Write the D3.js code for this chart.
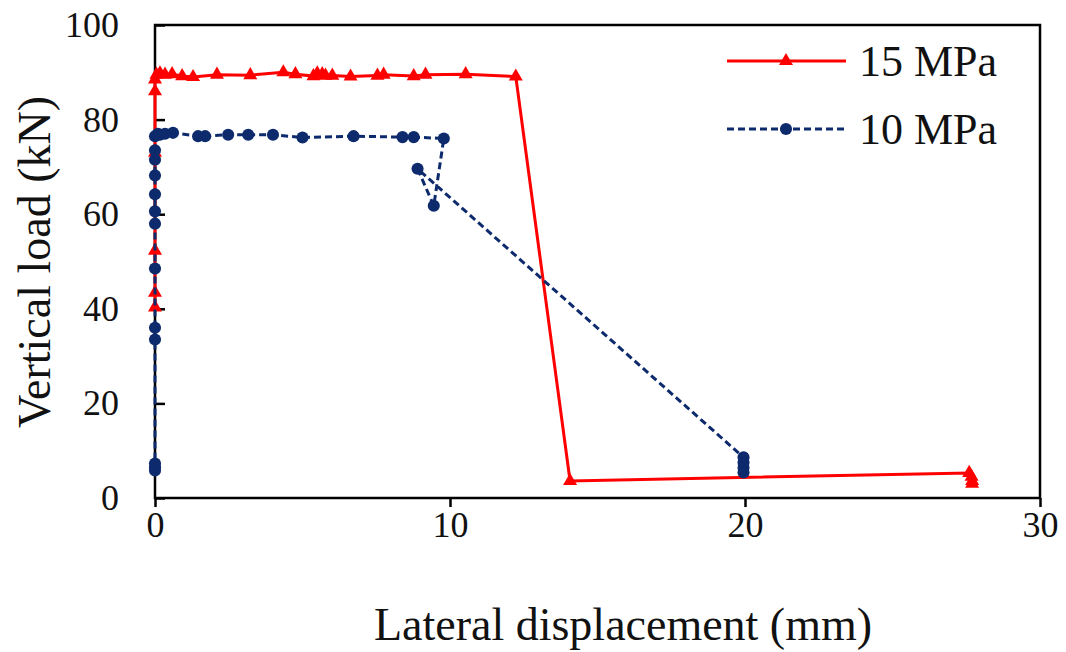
<!DOCTYPE html>
<html>
<head>
<meta charset="utf-8">
<script src="https://cdn.jsdelivr.net/npm/d3@7"></script>
<style>
  html, body { margin: 0; padding: 0; background: #ffffff; }
  svg { display: block; }
</style>
</head>
<body>
<svg id="chart" width="1066" height="652"></svg>
<script>
// Load–displacement curves for two concrete strengths
const seriesNames = ["15 MPa", "10 MPa"];

// 15 MPa specimen: lateral displacement (mm) and vertical load (kN)
const disp15 = [0, 0, 0, 0, 0, 0, 0.05, 0.17, 0.34, 0.58, 0.92, 1.29, 2.1, 3.23, 4.35, 4.76, 5.37, 5.5, 5.67, 5.78, 6.01, 6.63, 7.54, 7.75, 8.77, 9.17, 10.53, 12.23, 14.07, 27.6, 27.68, 27.7, 27.7];
const load15 = [40.3, 43.4, 52.3, 73.0, 86.0, 88.5, 89.5, 89.8, 89.5, 89.6, 89.2, 89.0, 89.5, 89.4, 90.0, 89.6, 89.2, 89.8, 89.6, 89.3, 89.3, 89.1, 89.3, 89.5, 89.2, 89.5, 89.6, 89.1, 3.6, 5.3, 4.5, 3.6, 3.0];

// 10 MPa specimen
const disp10 = [0, 0, 0, 0, 0, 0, 0, 0, 0, 0, 0, 0, 0, 0.1, 0.17, 0.34, 0.61, 1.46, 1.7, 2.48, 3.16, 4.0, 5.0, 6.73, 8.39, 8.77, 9.79, 9.45, 8.9, 19.95, 19.95, 19.95, 19.95];
const load10 = [5.8, 6.5, 7.3, 33.5, 36.0, 48.5, 58.0, 60.6, 64.2, 68.2, 71.5, 73.5, 76.5, 77.0, 76.8, 77.0, 77.2, 76.5, 76.5, 76.8, 76.8, 76.8, 76.2, 76.5, 76.3, 76.3, 76.0, 61.8, 69.6, 8.6, 7.5, 6.4, 5.4];

const xTicks = [0, 10, 20, 30];
const yTicks = [0, 20, 40, 60, 80, 100];
const xTitle = "Lateral displacement (mm)";
const yTitle = "Vertical load (kN)";

const colors = ["#ff0000", "#0c2a6c"];
const font = "'Liberation Serif', 'Times New Roman', serif";

const svg = d3.select("#chart");
const plotLeft = 155, plotRight = 1040, plotTop = 25, plotBottom = 498;

const x = d3.scaleLinear().domain([0, 30]).range([plotLeft, plotRight]);
const y = d3.scaleLinear().domain([0, 100]).range([plotBottom, plotTop]);

const series = [
  { name: seriesNames[0], pts: disp15.map((d, i) => [d, load15[i]]), color: colors[0], dash: null, marker: "tri" },
  { name: seriesNames[1], pts: disp10.map((d, i) => [d, load10[i]]), color: colors[1], dash: "7,4", marker: "dot" }
];

// x axis: outward ticks below the frame
const xAxis = d3.axisBottom(x).tickValues(xTicks).tickSize(9).tickPadding(4).tickFormat(d3.format("d"));
const gx = svg.append("g").attr("transform", `translate(0,${plotBottom})`).call(xAxis);
gx.select(".domain").remove();
gx.selectAll(".tick line").attr("stroke", "#000").attr("stroke-width", 2.5);
gx.selectAll(".tick text").attr("font-family", font).attr("font-size", 36).attr("fill", "#111");

// y axis: inward ticks
const yAxis = d3.axisLeft(y).tickValues(yTicks).tickSize(-10).tickPadding(36).tickFormat(d3.format("d"));
const gy = svg.append("g").attr("transform", `translate(${plotLeft},0)`).call(yAxis);
gy.select(".domain").remove();
gy.selectAll(".tick line").attr("stroke", "#000").attr("stroke-width", 2.5);
gy.selectAll(".tick text").attr("font-family", font).attr("font-size", 36).attr("fill", "#111");

// plot frame
svg.append("rect")
  .attr("x", plotLeft).attr("y", plotTop)
  .attr("width", plotRight - plotLeft).attr("height", plotBottom - plotTop)
  .attr("fill", "none").attr("stroke", "#000").attr("stroke-width", 2.5);

const line = d3.line().x(d => x(d[0])).y(d => y(d[1]));
const triSym = d3.symbol().type(d3.symbolTriangle).size(85);
const dotSym = d3.symbol().type(d3.symbolCircle).size(115);

series.forEach(s => {
  const g = svg.append("g");
  g.append("path")
    .datum(s.pts)
    .attr("d", line)
    .attr("fill", "none")
    .attr("stroke", s.color)
    .attr("stroke-width", 3)
    .attr("stroke-dasharray", s.dash);
  g.selectAll("path.mk")
    .data(s.pts)
    .enter().append("path")
    .attr("class", "mk")
    .attr("d", s.marker === "tri" ? triSym : dotSym)
    .attr("transform", d => `translate(${x(d[0])},${y(d[1])})`)
    .attr("fill", s.color);
});

// legend
const legend = svg.append("g");
series.forEach((s, i) => {
  const ly = 61 + i * 68;
  legend.append("line")
    .attr("x1", 727).attr("x2", 846).attr("y1", ly).attr("y2", ly)
    .attr("stroke", s.color).attr("stroke-width", 3)
    .attr("stroke-dasharray", s.dash);
  legend.append("path")
    .attr("d", s.marker === "tri" ? triSym : dotSym)
    .attr("transform", `translate(786,${ly})`)
    .attr("fill", s.color);
  legend.append("text")
    .attr("x", 859).attr("y", ly + 15)
    .attr("font-family", font).attr("font-size", 44).attr("fill", "#111")
    .text(s.name);
});

// axis titles
svg.append("text")
  .attr("x", 623).attr("y", 640)
  .attr("text-anchor", "middle")
  .attr("font-family", font).attr("font-size", 46).attr("fill", "#111")
  .text(xTitle);

svg.append("text")
  .attr("transform", `translate(50,262) rotate(-90)`)
  .attr("text-anchor", "middle")
  .attr("font-family", font).attr("font-size", 46).attr("fill", "#111")
  .text(yTitle);
</script>
</body>
</html>
